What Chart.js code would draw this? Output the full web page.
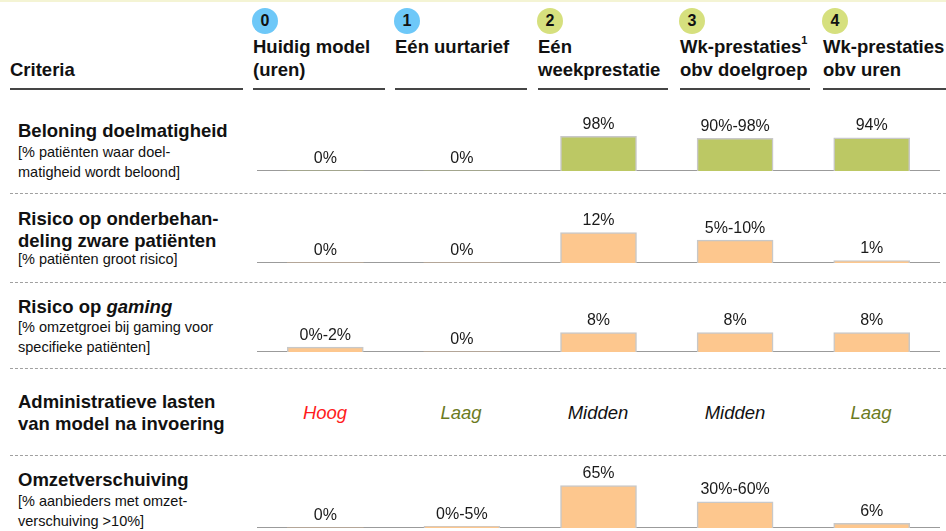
<!DOCTYPE html>
<html>
<head>
<meta charset="utf-8">
<script src="https://cdn.jsdelivr.net/npm/chart.js@4.4.1/dist/chart.umd.min.js"></script>
<style>
    body { margin: 0; background: #fff; font-family: "Liberation Sans", Arial, sans-serif; color: #111; }
    #page { position: relative; width: 946px; height: 531px; overflow: hidden; background: #fff; }
    .t { position: absolute; white-space: nowrap; }
    .bold { font-weight: bold; font-size: 18.5px; line-height: 22px; }
    .bold sup { font-size: 11px; line-height: 0; position: relative; top: -2px; }
    .sub { font-size: 14.5px; line-height: 20px; }
    .num { position: absolute; width: 26px; height: 26px; border-radius: 50%; font-weight: bold; font-size: 16px; line-height: 26px; text-align: center; }
    .uline { position: absolute; height: 2px; background: #454545; }
    .dash { position: absolute; left: 10px; width: 936px; height: 0; border-top: 1.5px dashed #a0a0a0; }
    .level { position: absolute; width: 136px; text-align: center; font-style: italic; font-size: 18.5px; line-height: 22px; }
    canvas { position: absolute; }
</style>
</head>
<body>
<div id="page">
    <div style="position:absolute;left:0;top:0;width:946px;height:2px;background:#f4f4d4"></div>
    <div class="t bold" style="left:10px;top:59px">Criteria</div>
    <div class="uline" style="left:10px;top:88px;width:233px"></div>
</div>

<script>
// Opties (kolommen)
const optionNumbers = ['0', '1', '2', '3', '4'];
const optionNames = [
    ['Huidig model', '(uren)'],
    ['Eén uurtarief', ''],
    ['Eén', 'weekprestatie'],
    ['Wk-prestaties<sup>1</sup>', 'obv doelgroep'],
    ['Wk-prestaties', 'obv uren']
];
const numberColors = ['#6ec8f8', '#6ec8f8', '#d6e07e', '#d6e07e', '#d6e07e'];

// Criteria (rijen)
const criteriaTitles = [
    ['Beloning doelmatigheid'],
    ['Risico op onderbehan-', 'deling zware patiënten'],
    ['Risico op <i>gaming</i>'],
    ['Administratieve lasten', 'van model na invoering'],
    ['Omzetverschuiving']
];
const criteriaNotes = [
    ['[% patiënten waar doel-', 'matigheid wordt beloond]'],
    ['[% patiënten groot risico]'],
    ['[% omzetgroei bij gaming voor', 'specifieke patiënten]'],
    [],
    ['[% aanbieders met omzet-', 'verschuiving >10%]']
];

// Waarden per criterium
const beloningValues = [0, 0, 98, 93, 94];
const beloningLabels = ['0%', '0%', '98%', '90%-98%', '94%'];
const onderbehandelingValues = [0, 0, 12, 9, 1];
const onderbehandelingLabels = ['0%', '0%', '12%', '5%-10%', '1%'];
const gamingValues = [2, 0, 8, 8, 8];
const gamingLabels = ['0%-2%', '0%', '8%', '8%', '8%'];
const adminLevels = ['Hoog', 'Laag', 'Midden', 'Midden', 'Laag'];
const omzetValues = [0, 2.5, 65, 40, 7];
const omzetLabels = ['0%', '0%-5%', '65%', '30%-60%', '6%'];

const levelColors = { Hoog: '#ff1c1c', Laag: '#6b7a1e', Midden: '#111' };

const page = document.getElementById('page');
const add = (cls, style, html) => {
    const el = document.createElement('div');
    el.className = cls;
    el.style.cssText = style;
    el.innerHTML = html;
    page.appendChild(el);
    return el;
};

// Kop
const colLeft = [253, 395, 538, 680, 823];
const colWidth = [132, 132, 130, 130, 123];
optionNumbers.forEach((n, i) => {
    add('num', `left:${colLeft[i] - 1}px;top:8px;background:${numberColors[i]}`, n);
    add('t bold', `left:${colLeft[i]}px;top:36px`, optionNames[i][0]);
    add('t bold', `left:${colLeft[i]}px;top:59px`, optionNames[i][1]);
    add('uline', `left:${colLeft[i]}px;top:88px;width:${colWidth[i]}px`, '');
});

// Linkerkolom
const titleTop = [120, 208, 296, 391, 469];
const noteTop = [142, 249, 317, 0, 491];
criteriaTitles.forEach((lines, i) => {
    lines.forEach((l, j) => add('t bold', `left:18px;top:${titleTop[i] + j * 22}px`, l));
    criteriaNotes[i].forEach((l, j) => add('t sub', `left:18px;top:${noteTop[i] + j * 20}px`, l));
});

// Scheidingslijnen
[193, 282, 368, 455].forEach(y => add('dash', `top:${y}px`, ''));

// Administratieve lasten
const barCenters = [325, 461, 598, 735, 871];
adminLevels.forEach((lv, i) => {
    add('level', `left:${barCenters[i] - 68}px;top:402px;color:${levelColors[lv]}`, lv);
});

// Staafjes
const valueLabels = {
    id: 'valueLabels',
    afterDatasetsDraw(chart, args, opts) {
        const ctx = chart.ctx;
        const meta = chart.getDatasetMeta(0);
        ctx.save();
        ctx.font = '16px "Liberation Sans", Arial, sans-serif';
        ctx.fillStyle = '#1a1a1a';
        ctx.textAlign = 'center';
        ctx.textBaseline = 'middle';
        meta.data.forEach((bar, i) => ctx.fillText(opts.labels[i], bar.x, bar.y - 12));
        ctx.restore();
    }
};

const makeRow = (top, height, values, labels, color, max) => {
    const canvas = document.createElement('canvas');
    canvas.width = 683;
    canvas.height = height;
    canvas.style.left = '257px';
    canvas.style.top = top + 'px';
    page.appendChild(canvas);
    new Chart(canvas, {
        type: 'bar',
        data: {
            labels: optionNumbers,
            datasets: [{
                data: values,
                backgroundColor: color,
                borderColor: '#c8c8c8',
                borderWidth: (c) => c.raw ? 1.5 : 0,
                borderSkipped: 'bottom',
                barThickness: 76
            }]
        },
        options: {
            responsive: false,
            animation: false,
            layout: { padding: 0 },
            plugins: {
                legend: { display: false },
                tooltip: { enabled: false },
                valueLabels: { labels: labels }
            },
            scales: {
                x: {
                    grid: { display: false, drawTicks: false },
                    ticks: { display: false },
                    border: { color: '#9b9b9b', width: 2 }
                },
                y: { display: false, min: 0, max: max }
            }
        },
        plugins: [valueLabels]
    });
};

makeRow(110, 61, beloningValues, beloningLabels, '#bcc864', 173);
makeRow(200, 63, onderbehandelingValues, onderbehandelingLabels, '#fdc78e', 24.8);
makeRow(290, 62, gamingValues, gamingLabels, '#fdc78e', 25.7);
makeRow(460, 68, omzetValues, omzetLabels, '#fdc78e', 104);
</script>
</body>
</html>
